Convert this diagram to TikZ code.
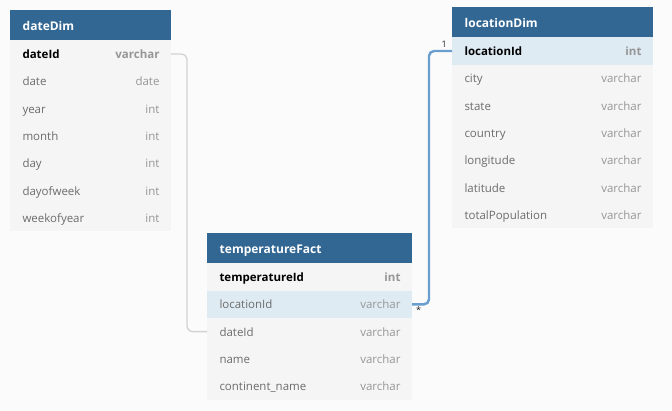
\documentclass[tikz,border=0pt]{standalone}
\usepackage{fontspec}
\setmainfont{Open Sans}
\usetikzlibrary{matrix,calc,positioning}

\definecolor{headblue}{RGB}{50,103,147}
\definecolor{rowgray}{RGB}{245,245,245}
\definecolor{keyblue}{RGB}{223,235,243}
\definecolor{typegray}{RGB}{150,150,150}
\definecolor{namegray}{RGB}{108,108,108}
\definecolor{linkblue}{RGB}{106,158,206}
\definecolor{linkgray}{RGB}{210,210,210}
\definecolor{paper}{RGB}{251,251,251}

\begin{document}
\begin{tikzpicture}[x=1pt,y=-1pt,
    head/.style={fill=headblue,text=white,font=\bfseries\fontsize{12}{14}\selectfont,
      anchor=north west,minimum height=30pt,inner xsep=12.5pt,inner ysep=0pt,
      text height=10.5pt,text depth=0.5pt,text width=#1,align=left},
    tab/.style={matrix of nodes,anchor=north west,inner sep=0pt,outer sep=0pt,
      column sep=0pt,row sep=0pt,
      nodes={fill=rowgray,minimum height=27.3pt,inner ysep=0pt,anchor=center,
        text height=10pt,text depth=1pt,font=\fontsize{11.5}{13}\selectfont},
      column 1/.style={nodes={text width=#1,align=left,inner xsep=12.5pt,text=namegray}},
      column 2/.style={nodes={text width=50pt,align=right,inner xsep=11.5pt,text=typegray}},
      row 1/.style={nodes={font=\bfseries\fontsize{11.5}{13}\selectfont}},
      row 1 column 1/.style={nodes={text=black}}},
    link/.style={line width=2.4pt,linkblue,rounded corners=5pt},
    weak/.style={line width=1.3pt,linkgray,rounded corners=6pt},
    tag/.style={font=\fontsize{9}{10}\selectfont,text=black!85,inner sep=2pt}]

    \path[use as bounding box,fill=paper] (0,0) rectangle (672,411);

    % dateDim
    \node[head=136pt] (dateHead) at (10,10) {dateDim};
    \matrix (dateDim) [tab=63pt] at (dateHead.south west)
    {
      dateId & varchar \\
      date & date \\
      year & int \\
      month & int \\
      day & int \\
      dayofweek & int \\
      weekofyear & int \\
    };

    % locationDim
    \node[head=176pt] (locHead) at (452,7) {locationDim};
    \matrix (locDim) [tab=103pt,row 1/.append style={nodes={fill=keyblue}}] at (locHead.south west)
    {
      locationId & int \\
      city & varchar \\
      state & varchar \\
      country & varchar \\
      longitude & varchar \\
      latitude & varchar \\
      totalPopulation & varchar \\
    };

    % temperatureFact
    \node[head=180pt] (factHead) at (207,233) {temperatureFact};
    \matrix (factTab) [tab=107pt,row 2/.style={nodes={fill=keyblue}}] at (factHead.south west)
    {
      temperatureId & int \\
      locationId & varchar \\
      dateId & varchar \\
      name & varchar \\
      continent\_name & varchar \\
    };

    \draw[weak](dateDim-1-2.east) -- ++(16,0) |- (factTab-3-1.west);
    \draw[link](factTab-2-2.east) -- ++(17,0) |- (locDim-1-1.west);

    \node[tag,above left=1pt and 3pt] (oneTag) at (locDim-1-1.west) {1};
    \node[tag,below right=0pt and 2pt] (manyTag) at (factTab-2-2.east) {*};
  \end{tikzpicture}
\end{document}
